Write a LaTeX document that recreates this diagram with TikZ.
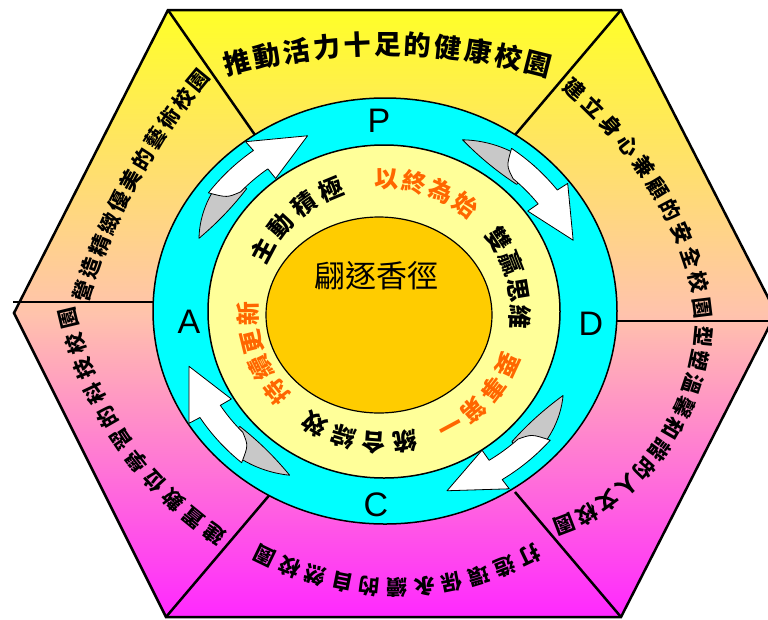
\documentclass[tikz,border=0pt]{standalone}
\usepackage{fontspec}
\setmainfont{Liberation Sans}
\newfontfamily\cjk{Noto Sans CJK TC}
\usetikzlibrary{decorations.text}
\definecolor{cyanring}{RGB}{0,255,255}
\definecolor{yring}{RGB}{255,255,153}
\definecolor{ocore}{RGB}{255,204,0}
\definecolor{otext}{RGB}{255,102,0}
\definecolor{arrgray}{RGB}{200,200,200}
\definecolor{hextop}{RGB}{255,255,40}
\definecolor{hexmid}{RGB}{255,195,172}
\definecolor{hexbot}{RGB}{255,40,255}
\newcommand\mysecfont{\cjk\bfseries\fontsize{21}{21}\selectfont}
\newcommand\mytopfont{\cjk\bfseries\fontsize{27}{27}\selectfont}
\newcommand\myringfont{\cjk\bfseries\fontsize{24}{24}\selectfont}
\newcommand\myringfontO{\cjk\bfseries\fontsize{24}{24}\selectfont\color{otext}}
\tikzset{
  arctext/.style 2 args={decorate, decoration={text along path, text align={fit to path}, raise=#1, text={#2}}},
  divider/.style={line width=2.5pt},
  pdca/.style={font=\fontsize{34}{34}\selectfont, inner sep=0pt},
  arrback/.style={fill=arrgray, draw=black, line width=0.8pt, line join=round},
  arrfront/.style={fill=white, draw=black, line width=0.8pt, line join=round},
}
\begin{document}
\begin{tikzpicture}[x=1pt,y=-1pt]
\useasboundingbox (0,0) rectangle (768,619);
\clip (0,0) rectangle (768,619);
% hexagon
\coordinate (h1) at (168,10);
\coordinate (h2) at (621,10);
\coordinate (h3) at (776,313);
\coordinate (h4) at (621,617);
\coordinate (h5) at (166,617);
\coordinate (h6) at (14,313);
\filldraw[line width=2.5pt, top color=hextop, bottom color=hexbot, middle color=hexmid, draw=black]
  (h1)--(h2)--(h3)--(h4)--(h5)--(h6)--cycle;
% dividers
\coordinate (e1) at (255,135);
\coordinate (e2) at (515,135);
\coordinate (l1) at (13,302);
\coordinate (e3) at (165,302);
\coordinate (r1) at (780,321);
\coordinate (e4) at (605,321);
\coordinate (e5) at (272,492);
\coordinate (e6) at (515,492);
\draw[divider] (h1) -- (e1);
\draw[divider] (h2) -- (e2);
\draw[divider] (l1) -- (e3);
\draw[divider] (r1) -- (e4);
\draw[divider] (h5) -- (e5);
\draw[divider] (h4) -- (e6);
% cyan ring
\draw[fill=cyanring, line width=1.5pt] (385,311) ellipse [x radius=232, y radius=213];
% curved arrows
\begin{scope}[shift={(384,311)}]
\foreach \c in {226,316,50,141}{
  \path[arrback]
    ({\c-23}:201 and 186)
    .. controls ({\c-16}:213 and 197) and ({\c-9}:217 and 201) .. ({\c-2}:217 and 201)
    -- ({\c-2}:191 and 176)
    .. controls ({\c-9}:189 and 174) and ({\c-16}:192 and 177) .. ({\c-23}:201 and 186) -- cycle;
  \path[arrfront]
    ({\c-10}:217 and 201) arc[start angle={\c-10}, end angle={\c+7}, x radius=217, y radius=201]
    -- ({\c+7}:230 and 212) -- ({\c+22}:204 and 189) -- ({\c+7}:180 and 166)
    -- ({\c+7}:193 and 178) arc[start angle={\c+7}, end angle={\c-4}, x radius=193, y radius=178]
    .. controls ({\c-8}:199 and 184) .. ({\c-10}:217 and 201) -- cycle;
}
\end{scope}
% yellow ring and core
\draw[fill=yring, line width=1.5pt] (384,311.5) ellipse [x radius=176, y radius=166.5];
\draw[fill=ocore, line width=1.2pt] (379,315) ellipse [x radius=113, y radius=98];
% PDCA
\node[pdca] (P) at (379,121) {P};
\node[pdca] (D) at (591,324) {D};
\node[pdca] (C) at (376,505) {C};
\node[pdca] (A) at (189,322) {A};
% center
\node[font=\cjk\fontsize{31}{31}\selectfont, inner sep=0pt] (core) at (376,276) {翩逐香徑};
% section texts
\path[arctext={-10.3pt}{|\mytopfont|推動活力十足的健康校園}] (224,66) .. controls (333,37) and (442,37) .. (551,67);
\path[arctext={-8pt}{|\mysecfont|建立身心兼顧的安全校園}] (567,83) .. controls (630,135) and (697,225) .. (704,318);
\path[arctext={-8pt}{|\mysecfont|型塑溫馨和諧的人文校園}] (704,326) .. controls (700,420) and (630,505) .. (555,528);
\path[arctext={-8pt}{|\mysecfont|打造環保永續的自然校園}] (539,551) .. controls (444,600) and (350,600) .. (255,551);
\path[arctext={-8pt}{|\mysecfont|建置數位學習的科技校園}] (223,540) .. controls (140,484) and (87,406) .. (66,308);
\path[arctext={-8pt}{|\mysecfont|營造精緻優美的藝術校園}] (80,301) .. controls (106,216) and (147,140) .. (205,72);
% ring texts
\begin{scope}[shift={(384,311)}]
\path[arctext={-9.1pt}{|\myringfont|主動積極}] (202:136 and 132) arc[start angle=202, end angle=252, x radius=136, y radius=132];
\path[arctext={-9.1pt}{|\myringfontO|以終為始}] (266:136 and 132) arc[start angle=266, end angle=312, x radius=136, y radius=132];
\path[arctext={-9.1pt}{|\myringfont|雙贏思維}] (322:136 and 132) arc[start angle=322, end angle=368, x radius=136, y radius=132];
\path[arctext={-9.1pt}{|\myringfontO|要事第一}] (19:136 and 132) arc[start angle=19, end angle=66, x radius=136, y radius=132];
\path[arctext={-9.1pt}{|\myringfont|統合綜效}] (76:136 and 132) arc[start angle=76, end angle=126, x radius=136, y radius=132];
\path[arctext={-9.1pt}{|\myringfontO|持續更新}] (137:136 and 132) arc[start angle=137, end angle=184, x radius=136, y radius=132];
\end{scope}
\end{tikzpicture}
\end{document}
